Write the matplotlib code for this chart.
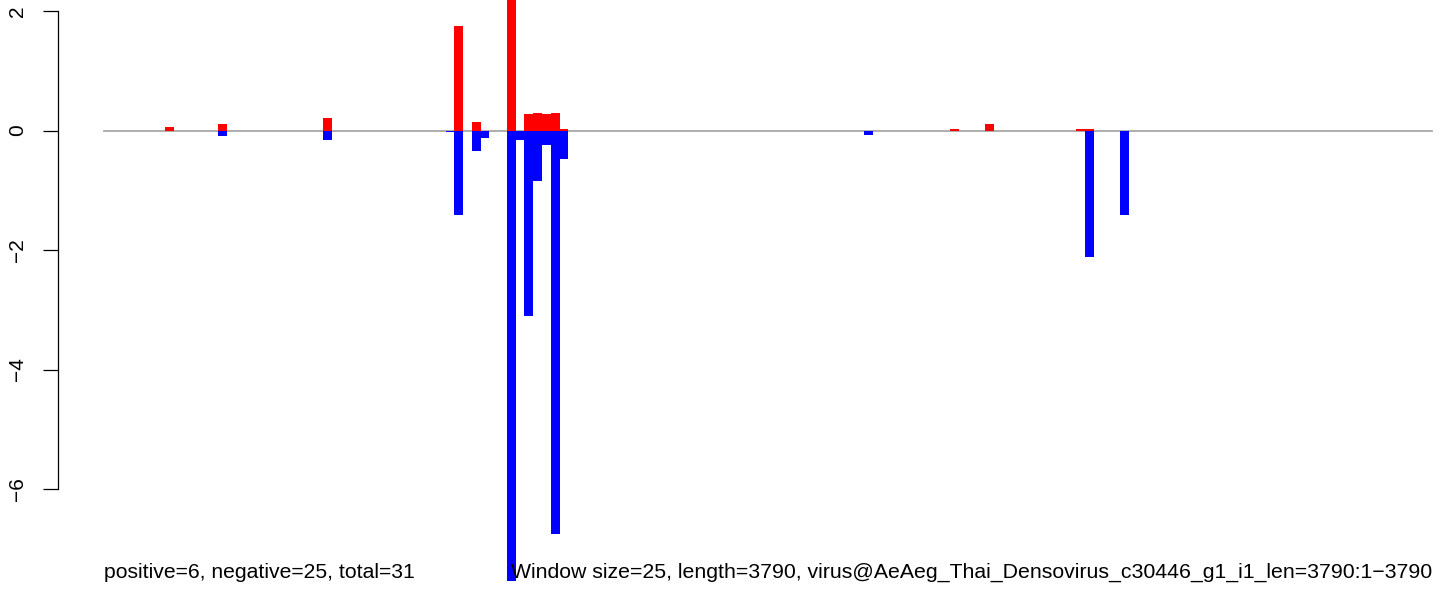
import matplotlib
matplotlib.use("Agg")
import matplotlib.pyplot as plt
import numpy as np

plt.rcParams['font.family'] = ['Liberation Sans', 'DejaVu Sans']

seq_len = 3790
window = 25

# window start positions
pos_positions = [175, 325, 625, 1000, 1050, 1150, 1200, 1225, 1250, 1275, 1300, 2415, 2515, 2775, 2800]
pos_values = [0.06, 0.11, 0.21, 1.75, 0.14, 2.3, 0.28, 0.29, 0.28, 0.29, 0.03, 0.025, 0.11, 0.025, 0.025]

neg_positions = [325, 625, 975, 1000, 1050, 1075, 1150, 1175, 1200, 1225, 1250, 1275, 1300, 2170, 2800, 2900]
neg_values = [-0.09, -0.16, -0.03, -1.41, -0.34, -0.12, -7.54, -0.16, -3.10, -0.84, -0.25, -6.75, -0.47, -0.075, -2.12, -1.41]

y_ticks = [2, 0, -2, -4, -6]

left_text = "positive=6, negative=25, total=31"
right_text = "Window size=25, length=3790, virus@AeAeg_Thai_Densovirus_c30446_g1_i1_len=3790:1\u22123790"

W, H = 1444, 592
fig = plt.figure(figsize=(W / 100, H / 100), dpi=100)

ax_left_px = 57.6
ax = fig.add_axes([ax_left_px / W, 0, 1 - ax_left_px / W, 1])

sx = (1432 - 104) / seq_len
x0 = -(104 - ax_left_px) / sx
x1 = (W - 104) / sx
ax.set_xlim(x0, x1)

sy = 59.75
y_top = 130.5 / sy
y_bot = -(H - 130.5) / sy
ax.set_ylim(y_bot, y_top)

ax.bar(pos_positions, pos_values, width=window, align='edge', color='#FF0000', linewidth=0)
ax.bar(neg_positions, neg_values, width=window, align='edge', color='#0000FF', linewidth=0)
ax.plot([0, seq_len], [0, 0], color='#A0A0A0', linewidth=1.2, zorder=0.5)

for s in ['top', 'right', 'bottom']:
    ax.spines[s].set_visible(False)
ax.spines['left'].set_bounds(min(y_ticks), max(y_ticks))
ax.spines['left'].set_linewidth(0.9)
ax.set_xticks([])
ax.set_yticks(y_ticks)
ax.set_yticklabels([str(t).replace('-', '\u2212') for t in y_ticks], rotation=90, va='center', fontsize=15)
ax.tick_params(axis='y', length=11, width=0.9, pad=11)
ax.patch.set_visible(False)

ax.text(0, -7.39, left_text, ha='left', va='center', fontsize=15.2)
ax.text(seq_len, -7.39, right_text, ha='right', va='center', fontsize=15.3)

fig.savefig("out.png", dpi=100)
